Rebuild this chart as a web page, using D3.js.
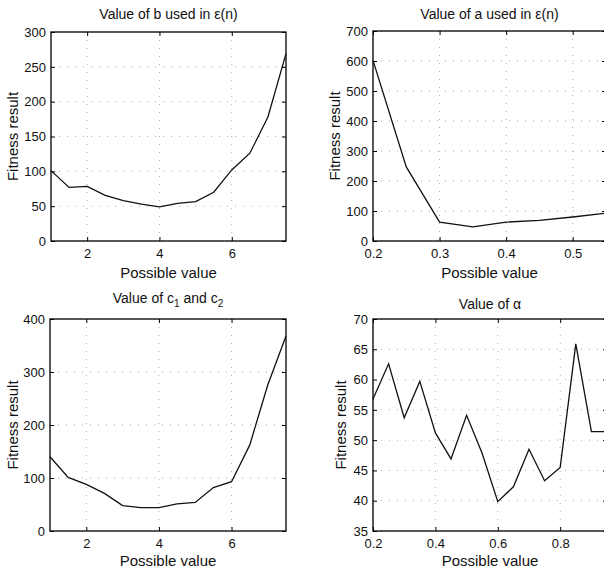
<!DOCTYPE html>
<html><head><meta charset="utf-8">
<script src="https://cdn.jsdelivr.net/npm/d3@7"></script>
<style>
body{margin:0;background:#fff;}
svg{display:block;font-family:"Liberation Sans",Arial,Helvetica,sans-serif;}
.tick text{font-size:13px;fill:#111;}
</style></head>
<body>
<svg id="c" width="604" height="575"></svg>
<script>
// Data
const bX = [1,1.5,2,2.5,3,3.5,4,4.5,5,5.5,6,6.5,7,7.5];
const bY = [101,77,78.5,65.5,58,53,49,54,56.5,70,102,126,178,269];
const aX = [0.2,0.25,0.3,0.35,0.4,0.45,0.5,0.55];
const aY = [602,247,63,47,63,69,80,93];
const cX = [1,1.5,2,2.5,3,3.5,4,4.5,5,5.5,6,6.5,7,7.5];
const cY = [140,101,88,71,48,44,44,51,54,82,93,162,276,368];
const alphaX = [0.2,0.25,0.3,0.35,0.4,0.45,0.5,0.55,0.6,0.65,0.7,0.75,0.8,0.85,0.9,0.95];
const alphaY = [56.8,62.6,53.7,59.7,51.2,46.9,54.1,47.8,39.85,42.3,48.5,43.3,45.5,65.9,51.4,51.4];

const bXTicks = [2,4,6], bYTicks = [0,50,100,150,200,250,300];
const aXTicks = [0.2,0.3,0.4,0.5], aYTicks = [0,100,200,300,400,500,600,700];
const cXTicks = [2,4,6], cYTicks = [0,100,200,300,400];
const alphaXTicks = [0.2,0.4,0.6,0.8], alphaYTicks = [35,40,45,50,55,60,65,70];

const svg = d3.select("#c");

function panel(cfg){
  const {L,R,T,B,xd,yd,xs,ys,xt,yt,title,ylabX,titleY,xlabY} = cfg;
  const x = d3.scaleLinear().domain(xd).range([L,R]);
  const y = d3.scaleLinear().domain(yd).range([B,T]);
  const g = svg.append("g");
  // grid
  g.selectAll(".gx").data(xt).join("line")
    .attr("x1",d=>x(d)).attr("x2",d=>x(d)).attr("y1",T).attr("y2",B)
    .attr("stroke","#aaa").attr("stroke-width",1).attr("stroke-dasharray","1,7");
  g.selectAll(".gy").data(yt).join("line")
    .attr("y1",d=>y(d)).attr("y2",d=>y(d)).attr("x1",L).attr("x2",R)
    .attr("stroke","#aaa").attr("stroke-width",1).attr("stroke-dasharray","1,7");
  // axes
  const ax = g.append("g").attr("transform",`translate(0,${B})`)
    .call(d3.axisBottom(x).tickValues(xt).tickSize(-4).tickPadding(8).tickFormat(d3.format("~g")));
  const ay = g.append("g").attr("transform",`translate(${L},0)`)
    .call(d3.axisLeft(y).tickValues(yt).tickSize(-4).tickPadding(5).tickFormat(d3.format("~g")));
  const axT = g.append("g").attr("transform",`translate(0,${T})`)
    .call(d3.axisTop(x).tickValues(xt).tickSize(-4).tickFormat(""));
  const ayR = g.append("g").attr("transform",`translate(${R},0)`)
    .call(d3.axisRight(y).tickValues(yt).tickSize(-4).tickFormat(""));
  [ax,ay,axT,ayR].forEach(a=>{
    a.select(".domain").remove();
    a.selectAll(".tick line").attr("stroke","#000");
    a.selectAll("text").attr("font-size",13.5).attr("fill","#111");
  });
  // frame
  g.append("rect").attr("x",L).attr("y",T).attr("width",R-L).attr("height",B-T)
    .attr("fill","none").attr("stroke","#000").attr("stroke-width",1.3);
  // line
  const line = d3.line().x((d,i)=>x(xs[i])).y(d=>y(d));
  g.append("path").datum(ys).attr("d",line).attr("fill","none")
    .attr("stroke","#111").attr("stroke-width",1.3);
  // labels
  const t = g.append("text").attr("x",(L+R)/2).attr("y",titleY)
    .attr("text-anchor","middle").attr("font-size",14).attr("fill","#111");
  title(t);
  g.append("text").attr("x",(L+R)/2).attr("y",xlabY).attr("text-anchor","middle")
    .attr("font-size",15).attr("fill","#111").text("Possible value");
  g.append("text").attr("transform",`translate(${ylabX},${(T+B)/2}) rotate(-90)`)
    .attr("text-anchor","middle").attr("dy","0.35em").attr("font-size",15).attr("fill","#111")
    .text("Fitness result");
}

panel({L:51,R:286,T:32,B:241,xd:[1,7.5],yd:[0,300],xs:bX,ys:bY,xt:bXTicks,yt:bYTicks,
  title:t=>t.text("Value of b used in ε(n)"),ylabX:13,titleY:19,xlabY:278});
panel({L:373,R:606,T:31,B:241,xd:[0.2,0.55],yd:[0,700],xs:aX,ys:aY,xt:aXTicks,yt:aYTicks,
  title:t=>t.text("Value of a used in ε(n)"),ylabX:335,titleY:19,xlabY:278});
panel({L:50,R:286,T:319,B:531,xd:[1,7.5],yd:[0,400],xs:cX,ys:cY,xt:cXTicks,yt:cYTicks,
  title:t=>{t.append("tspan").text("Value of c");
    t.append("tspan").attr("font-size",10).attr("dy",4).text("1");
    t.append("tspan").attr("dy",-4).text(" and c");
    t.append("tspan").attr("font-size",10).attr("dy",4).text("2");},
  ylabX:13,titleY:303,xlabY:566});
panel({L:373,R:607,T:319,B:531,xd:[0.2,0.95],yd:[35,70],xs:alphaX,ys:alphaY,xt:alphaXTicks,yt:alphaYTicks,
  title:t=>t.text("Value of α"),ylabX:341,titleY:309,xlabY:566});
</script>
</body></html>
